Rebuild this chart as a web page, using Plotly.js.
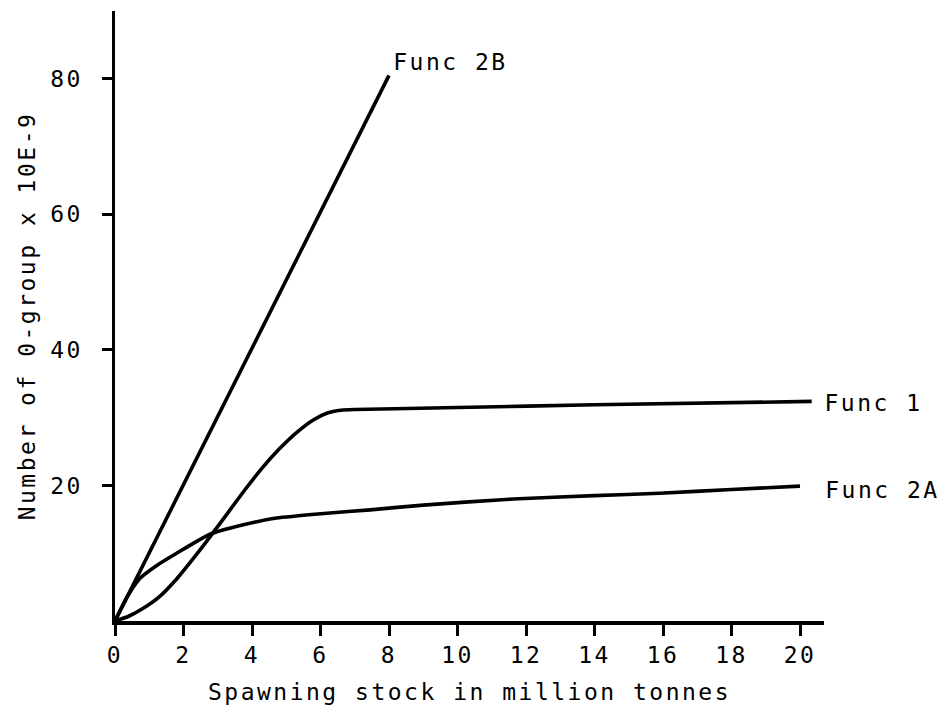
<!DOCTYPE html>
<html>
<head>
<meta charset="utf-8">
<script src="https://cdn.plot.ly/plotly-3.0.1.min.js"></script>
<style>
  html, body { margin: 0; padding: 0; background: #fff; }
  #chart { width: 950px; height: 709px; }
  #chart text { letter-spacing: 2.5px; }
</style>
</head>
<body>
<div id="chart"></div>
<script>
// Series
var func2bX = [0, 8.0];
var func2bY = [0, 80.5];

var func1X = [0, 0.4, 0.8, 1.3, 1.8, 2.3, 2.8, 3.3, 3.8, 4.3, 4.8, 5.3, 5.8, 6.2, 6.6, 7.0, 10, 14, 20.34];
var func1Y = [0, 0.7, 1.8, 3.6, 6.2, 9.3, 12.6, 16.0, 19.4, 22.6, 25.4, 27.8, 29.7, 30.7, 31.1, 31.2, 31.5, 31.9, 32.4];

var func2aX = [0, 0.35, 0.73, 1.22, 1.8, 2.77, 3.75, 4.72, 6.18, 7.45, 9, 11.63, 14, 15.9, 18, 20];
var func2aY = [0, 3.5, 6.3, 8.2, 10.0, 12.8, 14.2, 15.2, 15.9, 16.4, 17.1, 18.0, 18.5, 18.85, 19.4, 19.9];

var seriesNames = ["Func 2B", "Func 1", "Func 2A"];

var xTicks = [0, 2, 4, 6, 8, 10, 12, 14, 16, 18, 20];
var yTicks = [20, 40, 60, 80];

var xTitle = "Spawning stock in million tonnes";
var yTitle = "Number of 0-group x 10E-9";

var FONT = "DejaVu Sans Mono, monospace";
var lineStyle = {color: "#000", width: 3.6};

var traces = [
  {x: func2bX, y: func2bY, mode: "lines", name: seriesNames[0], line: lineStyle, cliponaxis: false},
  {x: func1X, y: func1Y, mode: "lines", name: seriesNames[1], line: Object.assign({shape: "spline", smoothing: 0.5}, lineStyle), cliponaxis: false},
  {x: func2aX, y: func2aY, mode: "lines", name: seriesNames[2], line: Object.assign({shape: "spline", smoothing: 0.5}, lineStyle), cliponaxis: false}
];

var layout = {
  width: 950, height: 709,
  margin: {l: 115, r: 126, t: 11, b: 88},
  paper_bgcolor: "#fff", plot_bgcolor: "#fff",
  showlegend: false,
  font: {family: FONT, size: 23, color: "#000"},
  xaxis: {
    range: [0, 20.7], showgrid: false, zeroline: false,
    showline: true, linecolor: "#000", linewidth: 3.5,
    ticks: "outside", ticklen: 11, tickwidth: 3, tickcolor: "#000",
    tickvals: xTicks, ticktext: xTicks.map(String),
    tickfont: {family: FONT, size: 23, color: "#000"},
    title: {text: xTitle, font: {family: FONT, size: 23, color: "#000"}, standoff: 18}
  },
  yaxis: {
    range: [0, 90], showgrid: false, zeroline: false,
    showline: true, linecolor: "#000", linewidth: 3.5,
    ticks: "outside", ticklen: 10, tickwidth: 3, tickcolor: "#000",
    tickvals: yTicks, ticktext: yTicks.map(String),
    ticklabelstandoff: 14,
    tickfont: {family: FONT, size: 23, color: "#000"},
    title: {text: yTitle, font: {family: FONT, size: 23, color: "#000"}, standoff: 14}
  },
  annotations: [
    {xref: "x", yref: "y", x: 8.32, y: 82.5, text: seriesNames[0], showarrow: false, xanchor: "left", yanchor: "middle", font: {family: FONT, size: 23, color: "#000"}},
    {xref: "paper", yref: "y", x: 1.008, y: 32.2, text: seriesNames[1], showarrow: false, xanchor: "left", yanchor: "middle", font: {family: FONT, size: 23, color: "#000"}},
    {xref: "paper", yref: "y", x: 1.011, y: 19.3, text: seriesNames[2], showarrow: false, xanchor: "left", yanchor: "middle", font: {family: FONT, size: 23, color: "#000"}}
  ]
};

Plotly.newPlot("chart", traces, layout, {displayModeBar: false, staticPlot: true});
</script>
</body>
</html>
